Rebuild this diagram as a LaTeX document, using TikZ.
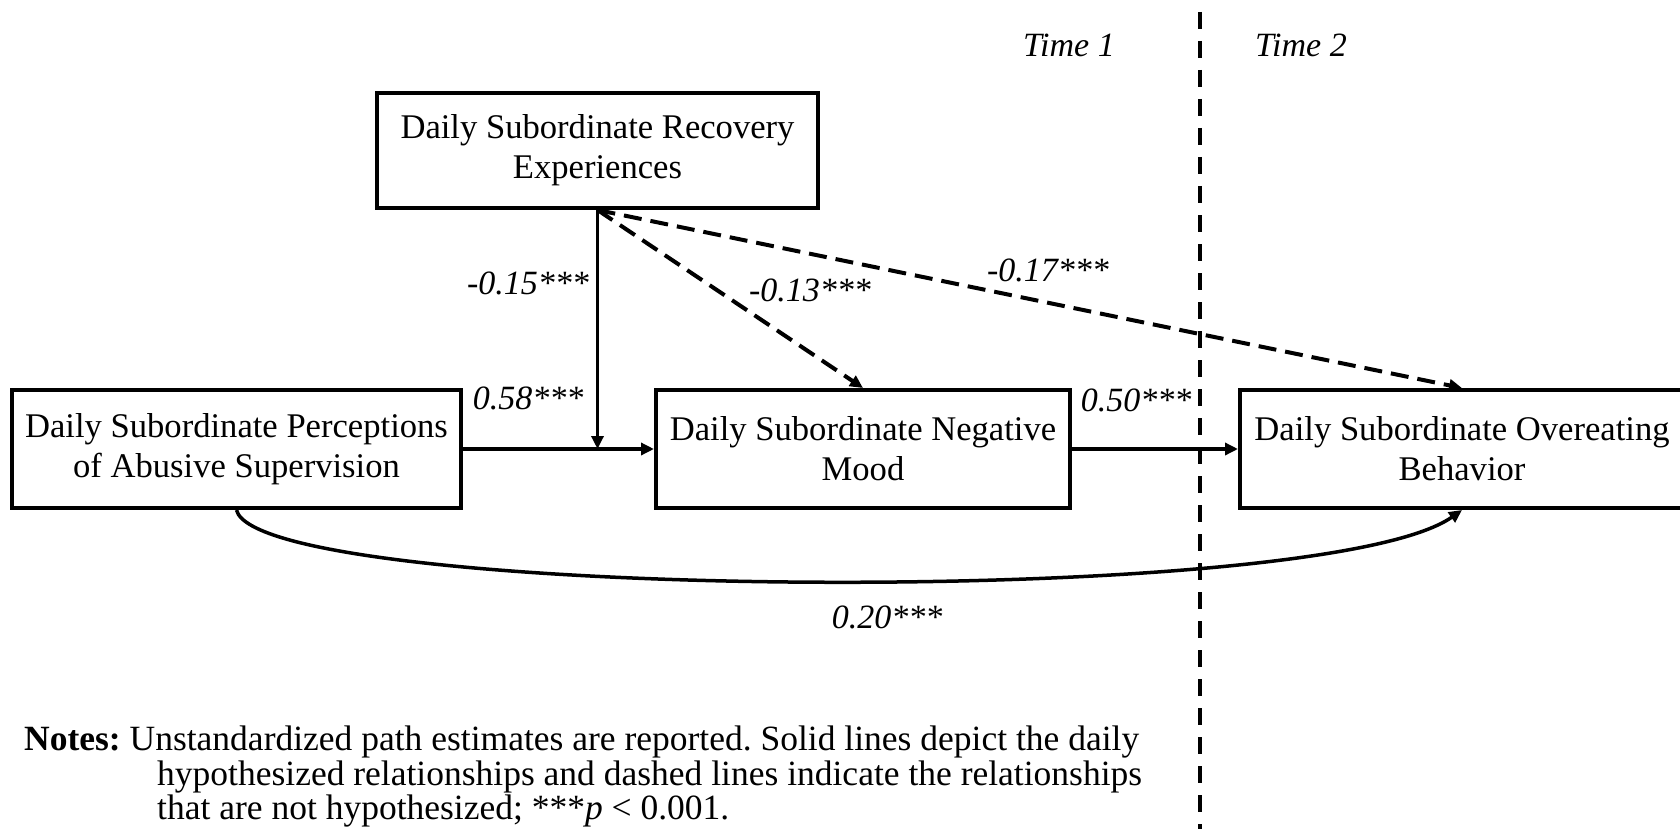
\documentclass[tikz,border=0pt]{standalone}
\usepackage{fontspec}
\setmainfont{Liberation Serif}
\usetikzlibrary{arrows.meta}
\frenchspacing
\newcommand{\myboxfont}{\fontsize{34.6}{40}\selectfont}
\newcommand{\mylabfont}{\fontsize{34}{39}\selectfont\itshape}
\newcommand{\mynotefont}{\fontsize{35.5}{34.5}\selectfont}
\begin{document}
\begin{tikzpicture}[x=1pt,y=-1pt,
  box/.style={draw, line width=4pt, align=center, inner sep=0pt, font=\myboxfont},
  lab/.style={inner sep=0pt, font=\mylabfont},
  arr/.style={line width=3.5pt, -{Triangle[length=13pt,width=12pt]}},
  darr/.style={line width=4pt, dash pattern=on 18pt off 9pt, -{Triangle[length=13pt,width=12pt]}},
  vdash/.style={line width=4pt, dash pattern=on 17pt off 12pt}
]
\useasboundingbox (0,0) rectangle (1680,829);
\fill[white] (0,0) rectangle (1680,829);

\node[box, minimum width=441pt, minimum height=115pt] (rec) at (597.5,150.5) {Daily Subordinate Recovery\\Experiences};
\node[box, minimum width=449pt, minimum height=118pt] (perc) at (236.5,449) {Daily Subordinate Perceptions\\of Abusive Supervision};
\node[box, minimum width=414pt, minimum height=118pt] (mood) at (863,449) {Daily Subordinate Negative\\Mood};
\node[box, minimum width=444pt, minimum height=118pt] (over) at (1462,449) {Daily Subordinate Overeating\\Behavior};

\coordinate (vtop) at (1200,12);
\coordinate (vbot) at (1200,829);
\draw[vdash] (vtop) -- (vbot);

\node[lab] (t1) at (1069,45) {Time 1};
\node[lab] (t2) at (1301,45) {Time 2};

\coordinate (mid) at (rec.south |- perc.east);
\draw[arr] (perc.east) -- (mood.west);
\draw[arr] (rec.south) -- (mid);
\draw[arr] (mood.east) -- (over.west);
\draw[darr] (rec.south) -- (mood.north);
\draw[darr] (rec.south) -- (over.north);
\draw[arr] (perc.south) .. controls (258,600) and (1320,610) .. (over.south);

\node[lab] (l15) at (528,283) {-0.15***};
\node[lab] (l58) at (528,398) {0.58***};
\node[lab] (l13) at (810,290) {-0.13***};
\node[lab] (l17) at (1048,270) {-0.17***};
\node[lab] (l50) at (1136,400) {0.50***};
\node[lab] (l20) at (887,617) {0.20***};

\node[anchor=north west, align=left, inner sep=0pt, font=\mynotefont] (notes) at (24,726)
{\textbf{Notes:} Unstandardized path estimates are reported. Solid lines depict the daily\\
\hspace*{133pt}hypothesized relationships and dashed lines indicate the relationships\\
\hspace*{133pt}that are not hypothesized; ***\textit{p} < 0.001.};
\end{tikzpicture}
\end{document}
